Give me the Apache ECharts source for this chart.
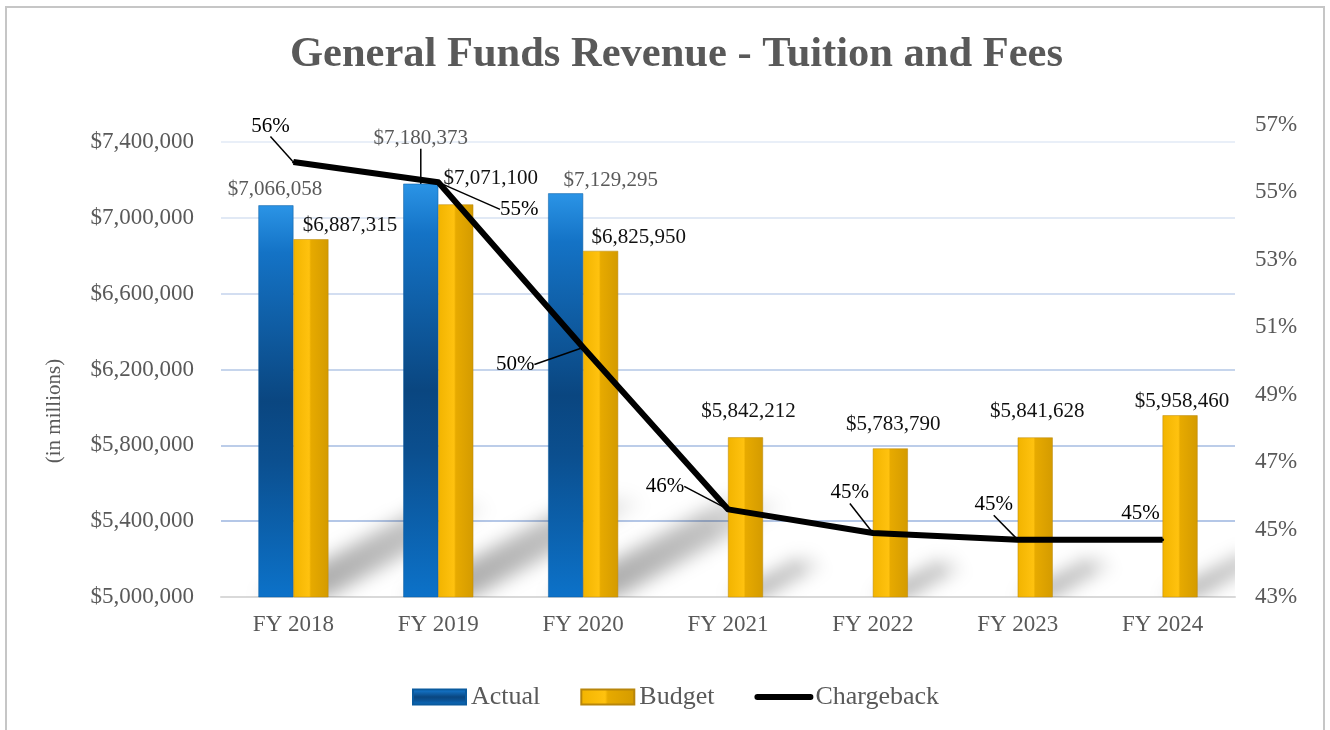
<!DOCTYPE html>
<html>
<head>
<meta charset="utf-8">
<script src="https://cdn.jsdelivr.net/npm/echarts@6/dist/echarts.min.js"></script>
<style>
html, body { margin: 0; padding: 0; background: #fff; }
#chart { position: absolute; left: 0; top: 0; width: 1330px; height: 730px; }
#frame { position: absolute; left: 5px; top: 6px; width: 1320px; height: 740px; border: 2px solid #c6c6c6; box-sizing: border-box; pointer-events: none; }
</style>
</head>
<body>
<div id="chart"></div>
<div id="frame"></div>
<script>
// data
var years = ['FY 2018', 'FY 2019', 'FY 2020', 'FY 2021', 'FY 2022', 'FY 2023', 'FY 2024'];
var actual = [7066058, 7180373, 7129295, null, null, null, null];
var budget = [6887315, 7071100, 6825950, 5842212, 5783790, 5841628, 5958460];
var chargeback = [55.9, 55.3, 50.4, 45.6, 44.9, 44.7, 44.7];

// axis ranges
var moneyMin = 5000000, moneyMax = 7490000, moneyStep = 400000;
var pctMin = 43, pctMax = 57, pctStep = 2;

// label nudges (px), like the hand-placed labels in the original
var actualLabelShift = [[-1, 0], [0, -30], [45, 3]];
var budgetLabelShift = [[39, 2], [35, -10], [38, 2], [3, -10], [3, -8], [2, -10], [2, 2]];
var rateLabelShift = [[-23, -36], [81, 27], [-68, 17], [-63, -23], [-23, -40], [-24, -35], [-22, -26]];

var serif = "'Liberation Serif', 'Times New Roman', serif";
var barW = 35;

function money(v) {
    return '$' + Number(v).toLocaleString('en-US');
}

var chart = echarts.init(document.getElementById('chart'));

var option = {
    animation: false,
    title: {
        text: 'General Funds Revenue - Tuition and Fees',
        left: 285,
        top: 29,
        textStyle: { fontFamily: serif, fontSize: 42.5, fontWeight: 'bold', color: '#595959' }
    },
    legend: {
        data: [
            { name: 'Actual', icon: 'rect' },
            { name: 'Budget', icon: 'rect' },
            { name: 'Chargeback', itemStyle: { opacity: 0 }, lineStyle: { width: 6, cap: 'round' } }
        ],
        left: 407,
        top: 679,
        itemWidth: 53,
        itemHeight: 15,
        itemGap: 40,
        textStyle: { fontFamily: serif, fontSize: 26, color: '#595959' }
    },
    grid: { left: 221, right: 95, top: 125, bottom: 133 },
    xAxis: {
        type: 'category',
        data: years,
        axisLine: { lineStyle: { color: '#d9d9d9', width: 2 } },
        axisTick: { show: false },
        axisLabel: { fontFamily: serif, fontSize: 23, color: '#595959', margin: 16 }
    },
    yAxis: [
        {
            type: 'value',
            min: moneyMin,
            max: moneyMax,
            interval: moneyStep,
            name: '(in millions)',
            nameLocation: 'middle',
            nameGap: 156,
            nameTextStyle: { fontFamily: serif, fontSize: 21, color: '#595959', padding: [0, 100, 0, 0] },
            axisLine: { show: false },
            axisTick: { show: false },
            axisLabel: {
                fontFamily: serif, fontSize: 23, color: '#595959', margin: 27,
                formatter: function (v) {
                    return (v - moneyMin) % moneyStep === 0 ? money(v) : '';
                }
            },
            splitLine: {
                lineStyle: {
                    width: 2,
                    color: ['#d9d9d9', '#b4c7e7', '#bccde9', '#c6d5ec', '#d3def1', '#e1e9f5', '#e9eff8', 'rgba(0,0,0,0)']
                }
            }
        },
        {
            type: 'value',
            position: 'right',
            min: pctMin,
            max: pctMax,
            interval: pctStep,
            axisLine: { show: false },
            axisTick: { show: false },
            splitLine: { show: false },
            axisLabel: { fontFamily: serif, fontSize: 23, color: '#595959', margin: 20, formatter: '{value}%' }
        }
    ],
    series: [
        {
            // soft floor shadows cast by each pair of bars: the shape is drawn off to the
            // left and only its blurred canvas shadow lands in the plot
            type: 'custom',
            name: 'shadow',
            silent: true,
            clip: true,
            z: 1,
            data: years.map(function (y, i) { return [i, Math.max(actual[i] || 0, budget[i])]; }),
            renderItem: function (params, api) {
                var i = api.value(0);
                var top = api.coord([i, api.value(1)]);
                var base = api.coord([i, moneyMin]);
                var off = 3000;
                var xL = (actual[i] == null ? base[0] : base[0] - barW) - off;
                var xR = base[0] + barW - off;
                var len = (base[1] - top[1]) * 0.5;
                var ang = 29 * Math.PI / 180;
                var dx = len * Math.cos(ang), dy = len * Math.sin(ang);
                var yb = base[1];
                return {
                    type: 'polygon',
                    shape: { points: [[xL, yb], [xR, yb], [xR + dx, yb - dy], [xL + dx, yb - dy]] },
                    style: {
                        fill: {
                            type: 'linear', global: true,
                            x: xR, y: yb, x2: xR + dx, y2: yb - dy,
                            colorStops: [
                                { offset: 0, color: 'rgba(0,0,0,1)' },
                                { offset: 0.55, color: 'rgba(0,0,0,0.75)' },
                                { offset: 1, color: 'rgba(0,0,0,0)' }
                            ]
                        },
                        shadowBlur: 18,
                        shadowOffsetX: off,
                        shadowColor: 'rgba(0,0,0,0.32)'
                    }
                };
            }
        },
        {
            name: 'Actual',
            type: 'bar',
            z: 2,
            barWidth: barW,
            barGap: '0%',
            data: actual.map(function (v, i) {
                return i === 1 ? { value: v, labelLine: { show: true } } : v;
            }),
            itemStyle: {
                borderColor: '#0a5a9e',
                borderWidth: 0.5,
                color: {
                    type: 'linear', x: 0, y: 0, x2: 0, y2: 1,
                    colorStops: [
                        { offset: 0, color: '#2b94e6' },
                        { offset: 0.12, color: '#1473c6' },
                        { offset: 0.5, color: '#0a4680' },
                        { offset: 0.65, color: '#0b4f8f' },
                        { offset: 1, color: '#0c72c9' }
                    ]
                }
            },
            label: {
                show: true,
                position: 'top',
                distance: 5,
                fontFamily: serif,
                fontSize: 21,
                color: '#595959',
                formatter: function (p) { return money(p.value); }
            },
            labelLine: { show: false, lineStyle: { color: '#000', width: 1.5 } },
            labelLayout: function (p) {
                var s = actualLabelShift[p.dataIndex] || [0, 0];
                return { dx: s[0], dy: s[1] };
            }
        },
        {
            name: 'Budget',
            type: 'bar',
            z: 2,
            barWidth: barW,
            data: budget,
            itemStyle: {
                borderColor: '#b8860b',
                borderWidth: 0.5,
                color: {
                    type: 'linear', x: 0, y: 0, x2: 1, y2: 0,
                    colorStops: [
                        { offset: 0, color: '#f2b400' },
                        { offset: 0.45, color: '#ffc20f' },
                        { offset: 0.5, color: '#e7aa00' },
                        { offset: 1, color: '#d49b00' }
                    ]
                }
            },
            label: {
                show: true,
                position: 'top',
                distance: 5,
                fontFamily: serif,
                fontSize: 21,
                color: '#111',
                formatter: function (p) { return money(p.value); }
            },
            labelLayout: function (p) {
                var s = budgetLabelShift[p.dataIndex];
                return { dx: s[0], dy: s[1] };
            }
        },
        {
            name: 'Chargeback',
            type: 'line',
            yAxisIndex: 1,
            z: 5,
            data: chargeback.map(function (v, i) {
                return i < 6 ? { value: v, labelLine: { show: true } } : v;
            }),
            symbol: 'circle',
            symbolSize: 3,
            itemStyle: { color: '#000' },
            lineStyle: { color: '#000', width: 6, join: 'round' },
            label: {
                show: true,
                position: 'inside',
                fontFamily: serif,
                fontSize: 21,
                color: '#000',
                formatter: function (p) { return Math.round(p.value) + '%'; }
            },
            labelLine: { show: false, lineStyle: { color: '#000', width: 1.5 } },
            labelLayout: function (p) {
                var s = rateLabelShift[p.dataIndex];
                return { dx: s[0], dy: s[1] };
            }
        }
    ]
};

chart.setOption(option);
window.onresize = function () {
    chart.resize();
};
</script>
</body>
</html>
